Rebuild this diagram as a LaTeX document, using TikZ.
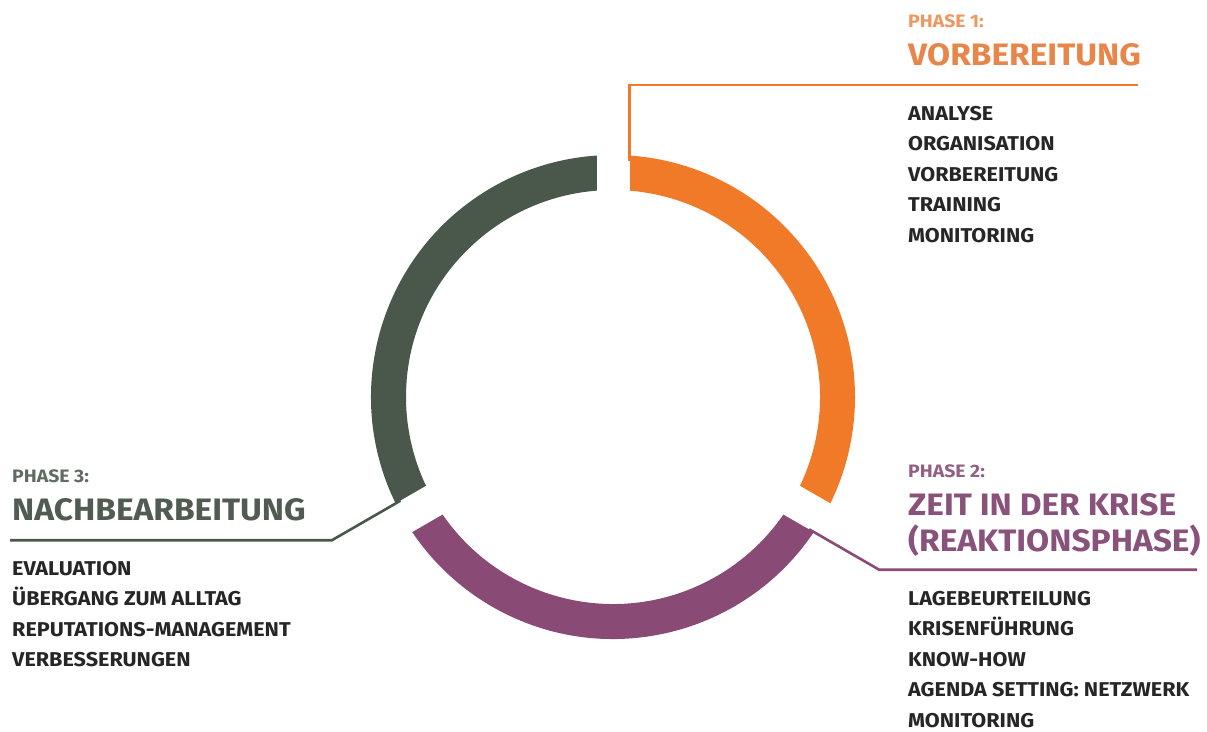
\documentclass[tikz,border=0pt]{standalone}
\usepackage{fontspec}
\setmainfont[FakeStretch=1.08]{Fira Sans}
\usetikzlibrary{calc}
% phase colours
\definecolor{phaseone}{RGB}{240,122,40}
\definecolor{phaseonetext}{RGB}{232,134,74}
\definecolor{phaseonelabel}{RGB}{238,152,96}
\definecolor{phasetwo}{RGB}{138,74,118}
\definecolor{phasetwotext}{RGB}{136,82,122}
\definecolor{phasetwolabel}{RGB}{146,96,134}
\definecolor{phasethree}{RGB}{74,88,76}
\definecolor{phasethreetext}{RGB}{80,92,82}
\definecolor{phasethreelabel}{RGB}{96,108,98}
\definecolor{itemcolor}{RGB}{38,38,38}
\begin{document}
\begin{tikzpicture}[x=1pt,y=1pt,
  itemtext/.style={anchor=base west, inner sep=0pt, align=left,
    font=\bfseries\fontsize{20}{30.6}\selectfont, text=itemcolor},
  phaselabel/.style={anchor=base west, inner sep=0pt,
    font=\bfseries\fontsize{18}{20}\selectfont},
  phasetitle/.style={anchor=base west, inner sep=0pt, align=left,
    font=\bfseries\fontsize{31}{36}\selectfont},
  leader/.style={line width=2.6pt}]
\fill[white] (0,0) rectangle (1207,-731);
\useasboundingbox (0,0) rectangle (1207,-731);

\coordinate (C) at (613,-397);

% ring segments (outer radius 242, inner radius 207)
\fill[phaseone] ($(C)+(90:242pt)$) arc[start angle=90,end angle=-30,radius=242pt]
  -- ($(C)+(-30:207pt)$) arc[start angle=-30,end angle=90,radius=207pt] -- cycle;
\fill[phasetwo] ($(C)+(-30:242pt)$) arc[start angle=-30,end angle=-150,radius=242pt]
  -- ($(C)+(-150:207pt)$) arc[start angle=-150,end angle=-30,radius=207pt] -- cycle;
\fill[phasethree] ($(C)+(210:242pt)$) arc[start angle=210,end angle=90,radius=242pt]
  -- ($(C)+(90:207pt)$) arc[start angle=90,end angle=210,radius=207pt] -- cycle;

% parallel-sided gaps and the start points of the leader lines
\begin{scope}[shift={(C)}, rotate=0]
  \fill[white] (-16.5,195) rectangle (16.5,255);
  \coordinate (o1) at (16.5,236);
  \coordinate (o2) at (16.5,312);
\end{scope}
\begin{scope}[shift={(C)}, rotate=-120]
  \fill[white] (-16.5,195) rectangle (16.5,255);
  \coordinate (p1) at (16.5,236);
  \coordinate (p2) at (16.5,317);
\end{scope}
\begin{scope}[shift={(C)}, rotate=120]
  \fill[white] (-16.5,195) rectangle (16.5,255);
  \coordinate (g1) at (16.5,236);
  \coordinate (g2) at (16.5,315);
\end{scope}

\coordinate (oend) at (1138,-85);
\coordinate (pend) at (1197,-570);
\coordinate (gend) at (10,-540);

% leader lines
\draw[leader, phaseone] (o1) -- (o2) -- (o2 -| oend);
\draw[leader, phasetwo] (p1) -- (p2) -- (p2 -| pend);
\draw[leader, phasethree] (g1) -- (g2) -- (g2 -| gend);

% phase 1 (multi-line nodes sit on the baseline of their last line)
\node[phaselabel, text=phaseonelabel] (l1) at (908,-27) {PHASE 1:};
\node[phasetitle, text=phaseonetext] (t1) at (908,-65) {VORBEREITUNG};
\node[itemtext] (i1) at (908,-242.4)
  {ANALYSE\\ORGANISATION\\VORBEREITUNG\\TRAINING\\MONITORING};

% phase 2
\node[phaselabel, text=phasetwolabel] (l2) at (908,-477) {PHASE 2:};
\node[phasetitle, text=phasetwotext] (t2) at (908,-551)
  {ZEIT IN DER KRISE\\(REAKTIONSPHASE)};
\node[itemtext] (i2) at (908,-727.4)
  {LAGEBEURTEILUNG\\KRISENFÜHRUNG\\KNOW-HOW\\AGENDA SETTING: NETZWERK\\MONITORING};

% phase 3
\node[phaselabel, text=phasethreelabel] (l3) at (12,-482) {PHASE 3:};
\node[phasetitle, text=phasethreetext] (t3) at (12,-520) {NACHBEARBEITUNG};
\node[itemtext] (i3) at (12,-666.8)
  {EVALUATION\\ÜBERGANG ZUM ALLTAG\\REPUTATIONS-MANAGEMENT\\VERBESSERUNGEN};
\end{tikzpicture}
\end{document}
